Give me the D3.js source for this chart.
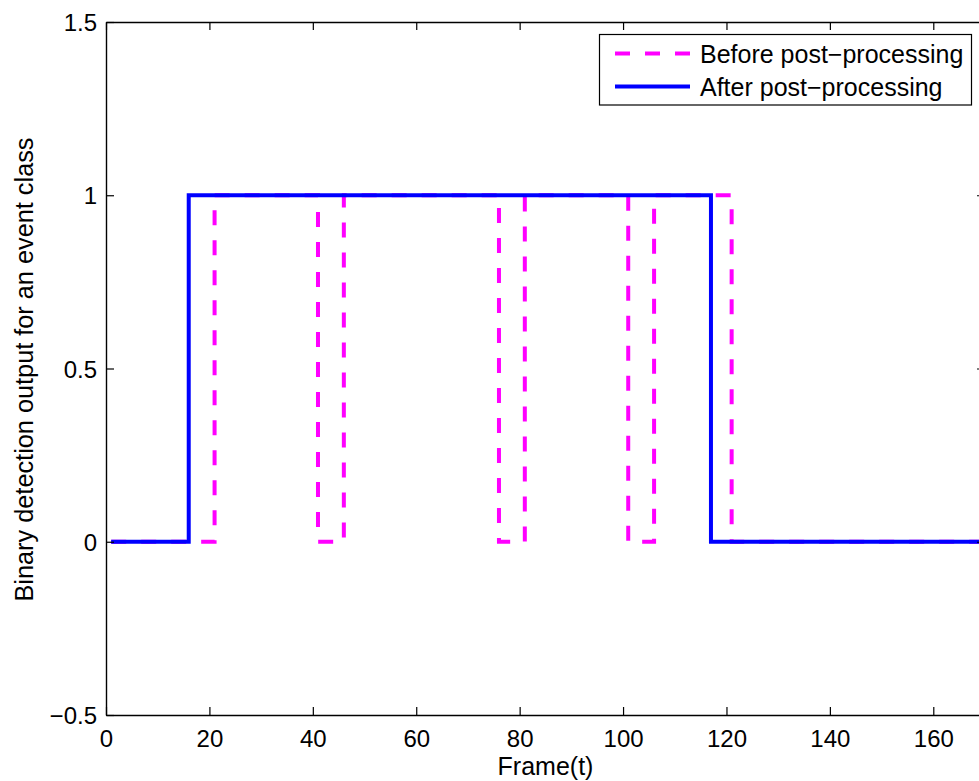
<!DOCTYPE html>
<html>
<head>
<meta charset="utf-8">
<script src="https://cdn.jsdelivr.net/npm/d3@7"></script>
<style>
  html, body { margin: 0; padding: 0; background: #fff; overflow: hidden; }
  svg { display: block; }
  text { font-family: "Liberation Sans", Arial, Helvetica, sans-serif; fill: #000; }
</style>
</head>
<body>
<svg id="chart" width="979" height="781"></svg>
<script>
// ---- data ----
const xTicks = [0, 20, 40, 60, 80, 100, 120, 140, 160];
const yTicks = [-0.5, 0, 0.5, 1, 1.5];
const yTickLabels = ["\u22120.5", "0", "0.5", "1", "1.5"];

// step series: frame where value changes, and value from that frame on
const beforeFrames = [1, 21, 41, 46, 76, 81, 101, 106, 121, 170];
const beforeValues = [0, 1, 0, 1, 0, 1, 0, 1, 0, 0];
const afterFrames = [1, 16, 117, 170];
const afterValues = [0, 1, 0, 0];

const seriesNames = ["Before post\u2212processing", "After post\u2212processing"];
const seriesColors = ["#ff00ff", "#0000ff"];

// ---- layout ----
const svg = d3.select("#chart");
const mLeft = 106, mRight = 985, mTop = 22, mBottom = 715;

const x = d3.scaleLinear().domain([0, 170]).range([mLeft, mRight]);
const y = d3.scaleLinear().domain([-0.5, 1.5]).range([mBottom, mTop]);

// lines
const line = d3.line()
  .x(d => x(d[0]))
  .y(d => y(d[1]))
  .curve(d3.curveStepAfter);

const beforeData = beforeFrames.map((f, i) => [f, beforeValues[i]]);
const afterData = afterFrames.map((f, i) => [f, afterValues[i]]);

svg.append("path")
  .datum(beforeData)
  .attr("d", line)
  .attr("fill", "none")
  .attr("stroke", seriesColors[0])
  .attr("stroke-width", 4)
  .attr("stroke-dasharray", "15,15");

svg.append("path")
  .datum(afterData)
  .attr("d", line)
  .attr("fill", "none")
  .attr("stroke", seriesColors[1])
  .attr("stroke-width", 4);

// axes
const fontSize = 24;
const gx = svg.append("g").attr("transform", `translate(0,${mBottom})`)
  .call(d3.axisBottom(x).tickValues(xTicks).tickSize(-8).tickSizeOuter(0).tickPadding(15).tickFormat(d3.format("d")));
const gxTop = svg.append("g").attr("transform", `translate(0,${mTop})`)
  .call(d3.axisTop(x).tickValues(xTicks).tickSize(-8).tickSizeOuter(0).tickFormat(""));
const gy = svg.append("g").attr("transform", `translate(${mLeft},0)`)
  .call(d3.axisLeft(y).tickValues(yTicks).tickSize(-8).tickSizeOuter(0).tickPadding(9)
    .tickFormat((d, i) => yTickLabels[i]));
const gyR = svg.append("g").attr("transform", `translate(${mRight},0)`)
  .call(d3.axisRight(y).tickValues(yTicks).tickSize(-8).tickSizeOuter(0).tickFormat(""));

[gx, gxTop, gy, gyR].forEach(g => {
  g.selectAll(".domain").attr("stroke", "#000").attr("stroke-width", 1.4);
  g.selectAll(".tick line").attr("stroke", "#000").attr("stroke-width", 1.2);
  g.selectAll(".tick text").attr("font-size", fontSize)
    .attr("font-family", '"Liberation Sans", Arial, sans-serif').attr("fill", "#000");
});
gy.selectAll(".tick text").attr("dy", "0.36em");

// axis titles
svg.append("text")
  .attr("x", (mLeft + mRight) / 2)
  .attr("y", 775)
  .attr("text-anchor", "middle")
  .attr("font-size", 25)
  .text("Frame(t)");

svg.append("text")
  .attr("transform", `translate(33,${(mTop + mBottom) / 2 + 1}) rotate(-90)`)
  .attr("text-anchor", "middle")
  .attr("font-size", 26)
  .attr("textLength", 464)
  .attr("lengthAdjust", "spacingAndGlyphs")
  .text("Binary detection output for an event class");

// legend
const lg = svg.append("g");
lg.append("rect")
  .attr("x", 599.5).attr("y", 34.5)
  .attr("width", 372).attr("height", 70.5)
  .attr("fill", "#fff").attr("stroke", "#000").attr("stroke-width", 1.2);

const legendRows = [53.5, 86.5];
seriesNames.forEach((name, i) => {
  lg.append("line")
    .attr("x1", 615).attr("x2", 690)
    .attr("y1", legendRows[i]).attr("y2", legendRows[i])
    .attr("stroke", seriesColors[i])
    .attr("stroke-width", 4)
    .attr("stroke-dasharray", i === 0 ? "15,15" : null);
  lg.append("text")
    .attr("x", 700)
    .attr("y", legendRows[i] + 9.5)
    .attr("font-size", 25)
    .text(name);
});
</script>
</body>
</html>
